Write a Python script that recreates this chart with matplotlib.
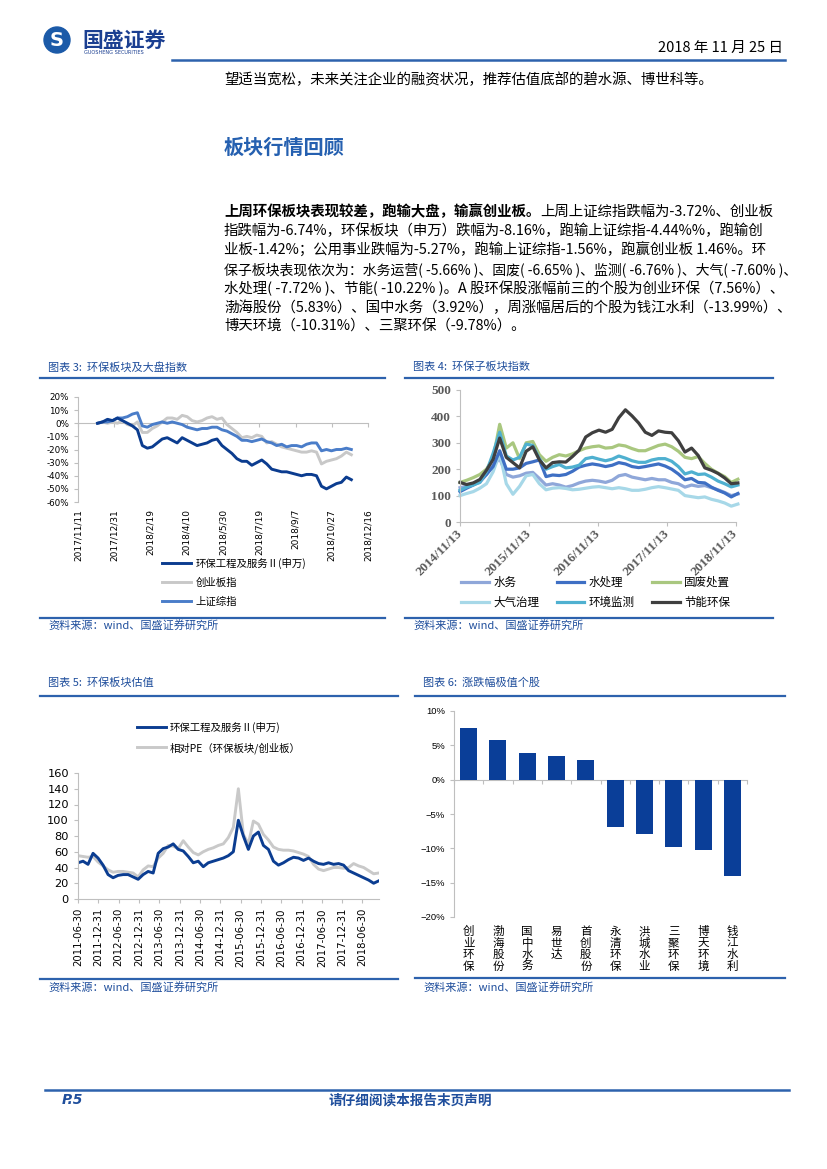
import numpy as np
import pandas as pd
import matplotlib
matplotlib.use('Agg')
import matplotlib.pyplot as plt
from matplotlib.patches import Circle
import matplotlib.dates as mdates

plt.rcParams['font.family'] = ['Noto Sans CJK SC', 'DejaVu Sans']

W, H = 827, 1169

# ---------------- data ----------------
# 图表3 环保板块及大盘指数 (%)
c3_start, c3_end = '2017-12-08', '2018-11-23'
c3_ticks = ['2017/11/11', '2017/12/31', '2018/2/19', '2018/4/10', '2018/5/30',
            '2018/7/19', '2018/9/7', '2018/10/27', '2018/12/16']
c3_env = [0, 1, 3, 2, 4, 2, 0, -2, -5, -17, -19, -18, -15, -12, -11, -13, -15, -11, -13, -15,
          -17, -16, -15, -13, -12, -17, -20, -23, -27, -29, -29, -32, -30, -28, -31, -35, -36, -37, -37, -38,
          -39, -40, -39, -39, -40, -48, -50, -48, -46, -45, -41, -43]
c3_cyb = [0, 1, 0, 1, 0, 2, -1, -2, 1, -7, -7, -4, -2, 1, 4, 4, 3, 6, 5, 2,
          1, 2, 4, 5, 3, 4, -1, -4, -7, -11, -10, -11, -9, -10, -15, -14, -16, -18, -19, -20,
          -21, -22, -22, -21, -22, -31, -29, -28, -27, -25, -22, -24]
c3_sh = [0, 1, 1, 2, 4, 4, 5, 7, 8, -2, -3, -1, 0, 1, 0, 1, 0, -1, -3, -4,
         -5, -4, -4, -3, -3, -5, -6, -8, -10, -13, -13, -14, -13, -12, -14, -15, -17, -16, -18, -17,
         -17, -18, -16, -15, -15, -21, -20, -21, -20, -20, -19, -20]

# 图表4 环保子板块指数
c4_start, c4_end = '2014-11-13', '2018-11-23'
c4_ticks = ['2014/11/13', '2015/11/13', '2016/11/13', '2017/11/13', '2018/11/13']
c4_sw = [130, 135, 142, 150, 180, 215, 240, 180, 170, 175, 185, 188, 165, 140, 145, 140, 132, 138, 148, 155,
         158, 155, 150, 158, 175, 180, 170, 165, 160, 165, 160, 160, 150, 145, 132, 140, 135, 138, 130, 122,
         112, 100, 106]
c4_scl = [115, 128, 140, 155, 180, 210, 270, 200, 200, 205, 222, 228, 235, 172, 178, 176, 180, 192, 208, 215,
          220, 216, 210, 215, 225, 220, 210, 206, 210, 215, 220, 212, 200, 182, 160, 165, 150, 148, 132, 120,
          110, 95, 108]
c4_gf = [150, 158, 168, 180, 200, 240, 370, 280, 300, 240, 300, 305, 255, 230, 245, 255, 250, 258, 270, 280,
         285, 288, 280, 282, 292, 288, 278, 270, 270, 280, 290, 295, 285, 268, 245, 240, 248, 222, 200, 185,
         172, 150, 162]
c4_dq = [100, 108, 115, 128, 145, 190, 260, 145, 105, 135, 175, 180, 145, 122, 128, 130, 127, 122, 124, 128,
         132, 134, 130, 126, 130, 126, 120, 120, 124, 130, 134, 130, 125, 120, 100, 96, 92, 95, 86, 80,
         72, 60, 68]
c4_jc = [120, 132, 140, 150, 190, 260, 340, 250, 235, 245, 295, 290, 240, 200, 210, 218, 205, 208, 215, 240,
         245, 238, 232, 238, 250, 242, 232, 226, 226, 235, 240, 240, 230, 210, 182, 190, 180, 182, 170, 155,
         145, 133, 140]
c4_jn = [150, 142, 148, 161, 196, 237, 318, 245, 225, 205, 268, 285, 235, 205, 225, 228, 227, 248, 272, 322,
         338, 348, 340, 351, 395, 425, 402, 375, 340, 328, 345, 340, 338, 308, 265, 280, 252, 205, 196, 184,
         167, 145, 148]

# 图表5 环保板块估值
c5_start, c5_end = '2011-06-30', '2018-11-23'
c5_ticks = ['2011-06-30', '2011-12-31', '2012-06-30', '2012-12-31', '2013-06-30', '2013-12-31',
            '2014-06-30', '2014-12-31', '2015-06-30', '2015-12-31', '2016-06-30', '2016-12-31',
            '2017-06-30', '2017-12-31', '2018-06-30']
c5_env = [46, 48, 44, 58, 52, 43, 31, 27, 30, 31, 31, 28, 25, 31, 35, 33, 58, 64, 66, 70,
          63, 61, 54, 46, 48, 41, 46, 48, 50, 52, 55, 60, 100, 80, 63, 80, 85, 68, 63, 48,
          43, 46, 50, 53, 52, 49, 52, 48, 45, 44, 46, 44, 45, 43, 36, 33, 30, 27, 24, 20, 23]
c5_pe = [55, 54, 53, 54, 47, 42, 37, 34, 35, 35, 34, 33, 28, 37, 42, 41, 52, 58, 68, 67,
         64, 74, 66, 59, 56, 60, 63, 65, 68, 70, 78, 91, 140, 82, 70, 99, 95, 82, 75, 66,
         63, 62, 62, 61, 59, 57, 54, 44, 38, 36, 38, 40, 40, 39, 40, 45, 42, 40, 36, 32, 33]

# 图表6 涨跌幅极值个股 (%)
c6_names = ['创业环保', '渤海股份', '国中水务', '易世达', '首创股份',
            '永清环保', '洪城水业', '三聚环保', '博天环境', '钱江水利']
c6_vals = [7.56, 5.83, 3.92, 3.43, 2.84, -6.86, -7.89, -9.78, -10.31, -13.99]

# ---------------- page ----------------
BLUE = '#1f4e9c'
LINE = '#2d62ad'
GRAY = '#bfbfbf'


def rect(l, t, r, b):
    return [l / W, 1 - b / H, (r - l) / W, (b - t) / H]


fig = plt.figure(figsize=(W / 100, H / 100), dpi=100)
bg = fig.add_axes([0, 0, 1, 1])
bg.set_xlim(0, W)
bg.set_ylim(H, 0)
bg.axis('off')

# header
bg.add_patch(Circle((57, 40), 13, color='#1b5aa8'))
bg.text(57, 41, 'S', color='white', fontsize=14, weight='bold', ha='center', va='center',
        family='DejaVu Sans')
bg.text(82, 40, '国盛证券', fontsize=15, weight='bold', color='#1b3f91', va='center')
bg.text(84, 52.5, 'GUOSHENG SECURITIES', fontsize=3.6, color='#1b3f91', va='center',
        family='DejaVu Sans')
bg.text(783, 48, '2018 年 11 月 25 日', fontsize=10.5, ha='right', va='center')
bg.plot([172, 785], [60, 60], color=LINE, lw=1.8)

FS = 10.4
bg.text(224, 80, '望适当宽松，未来关注企业的融资状况，推荐估值底部的碧水源、博世科等。',
        fontsize=FS, va='center')
bg.text(224, 147, '板块行情回顾', fontsize=14.5, weight='bold', color='#2560b0', va='center')

t_bold = bg.text(224, 212, '上周环保板块表现较差，跑输大盘，输赢创业板。', fontsize=FS,
                 weight='bold', va='center')
bg.annotate('上周上证综指跌幅为-3.72%、创业板', xy=(1, 0.5), xycoords=t_bold,
            fontsize=FS, va='center', ha='left')
para = ['指跌幅为-6.74%，环保板块（申万）跌幅为-8.16%，跑输上证综指-4.44%%，跑输创',
        '业板-1.42%；公用事业跌幅为-5.27%，跑输上证综指-1.56%，跑赢创业板 1.46%。环',
        '保子板块表现依次为：水务运营( -5.66% )、固废( -6.65% )、监测( -6.76% )、大气( -7.60% )、',
        '水处理( -7.72% )、节能( -10.22% )。A 股环保股涨幅前三的个股为创业环保（7.56%）、',
        '渤海股份（5.83%）、国中水务（3.92%），周涨幅居后的个股为钱江水利（-13.99%）、',
        '博天环境（-10.31%）、三聚环保（-9.78%）。']
para_fs = [FS, FS, 10.0, FS, FS, FS]
for i, line in enumerate(para):
    bg.text(224, 231 + i * 19.2, line, fontsize=para_fs[i], va='center')


def panel(x0, x1, tx, yt, yl, ysl, ys, title):
    bg.text(tx, yt, title, fontsize=8, color=BLUE, style='italic', va='center')
    bg.plot([x0, x1], [yl, yl], color=LINE, lw=1.6)
    bg.plot([x0, x1], [ysl, ysl], color=LINE, lw=1.6)
    bg.text(tx, ys, '资料来源：wind、国盛证券研究所', fontsize=8, color=BLUE, style='italic',
            va='center')


panel(40, 385, 48, 367, 378, 618, 625, '图表 3:  环保板块及大盘指数')
panel(405, 773, 413, 367, 378, 618, 625, '图表 4:  环保子板块指数')
panel(40, 398, 48, 683, 696, 979, 987, '图表 5:  环保板块估值')
panel(415, 785, 423, 683, 696, 978, 987, '图表 6:  涨跌幅极值个股')

# footer
bg.plot([45, 789], [1090, 1090], color=LINE, lw=1.8)
bg.text(62, 1100, 'P.5', fontsize=10, weight='bold', style='italic', color=BLUE, va='center',
        family='DejaVu Sans')
bg.text(410, 1100, '请仔细阅读本报告末页声明', fontsize=9.8, weight='bold', color=BLUE,
        ha='center', va='center')

# ---------------- 图表3 ----------------
ax3 = fig.add_axes(rect(78, 397, 368, 502))
ax3.patch.set_alpha(0)
d3 = pd.date_range(c3_start, c3_end, periods=len(c3_env))
h_cyb, = ax3.plot(d3, c3_cyb, color='#c8c8c8', lw=2.1, label='创业板指')
h_sh, = ax3.plot(d3, c3_sh, color='#4a7dc9', lw=2.1, label='上证综指')
h_env, = ax3.plot(d3, c3_env, color='#0b3c8f', lw=2.1, label='环保工程及服务Ⅱ(申万)')
t3 = pd.to_datetime(c3_ticks, format='%Y/%m/%d')
ax3.set_xlim(t3[0], t3[-1])
ax3.set_ylim(-60, 20)
yt3 = list(range(-60, 21, 10))
ax3.set_yticks(yt3, [f'{v}%' for v in yt3])
ax3.set_xticks(t3, c3_ticks, rotation=90)
ax3.tick_params(axis='x', length=0, pad=5, labelsize=6.5, labelfontfamily='DejaVu Sans')
ax3.tick_params(axis='y', length=3, color=GRAY, labelsize=6.3, labelfontfamily='DejaVu Sans')
for s in ['top', 'right', 'bottom']:
    ax3.spines[s].set_visible(False)
ax3.spines['left'].set_color(GRAY)
sec3 = ax3.secondary_xaxis(0.75)
sec3.set_alignment('bottom')
sec3.set_xticks(mdates.date2num(t3))
sec3.tick_params(labelbottom=False, labeltop=False, length=3, color=GRAY)
for s in sec3.spines.values():
    s.set_color(GRAY)
ax3.legend(handles=[h_env, h_cyb, h_sh], loc='upper left',
           bbox_to_anchor=(162 / W, 1 - 558 / H), bbox_transform=fig.transFigure,
           frameon=False, fontsize=7.5, handlelength=2.8, handletextpad=0.4,
           labelspacing=0.85, borderpad=0, borderaxespad=0)

# ---------------- 图表4 ----------------
ax4 = fig.add_axes(rect(460, 390, 736, 522))
ax4.patch.set_alpha(0)
d4 = pd.date_range(c4_start, c4_end, periods=len(c4_jn))
series4 = [(c4_gf, '#a9c77f', '固废处置'), (c4_sw, '#8fa7d9', '水务'),
           (c4_dq, '#a7d8e8', '大气治理'), (c4_scl, '#3e6fc4', '水处理'),
           (c4_jc, '#4fb0d0', '环境监测'), (c4_jn, '#3f3f3f', '节能环保')]
hd4 = {}
for vals, col, lab in series4:
    hd4[lab], = ax4.plot(d4, vals, color=col, lw=2.3, label=lab, clip_on=False)
t4 = pd.to_datetime(c4_ticks, format='%Y/%m/%d')
ax4.set_xlim(t4[0], t4[-1])
ax4.set_ylim(0, 500)
ax4.set_yticks(range(0, 501, 100))
ax4.set_xticks(t4, c4_ticks, rotation=45, ha='right', va='center', rotation_mode='anchor')
ax4.tick_params(axis='both', length=3, color=GRAY, labelsize=9.5, labelcolor='#595959',
                labelfontfamily='Liberation Serif')
ax4.tick_params(axis='x', pad=4)
for lbl in ax4.get_xticklabels() + ax4.get_yticklabels():
    lbl.set_fontweight('bold')
for s in ['top', 'right']:
    ax4.spines[s].set_visible(False)
ax4.spines['left'].set_color(GRAY)
ax4.spines['bottom'].set_color(GRAY)
order4 = ['水务', '大气治理', '水处理', '环境监测', '固废处置', '节能环保']
ax4.legend(handles=[hd4[k] for k in order4], ncol=3, loc='upper left',
           bbox_to_anchor=(461 / W, 1 - 576 / H), bbox_transform=fig.transFigure,
           frameon=False, fontsize=8.3, handlelength=2.4, handletextpad=0.4,
           labelspacing=0.6, columnspacing=1.5, borderpad=0, borderaxespad=0)

# ---------------- 图表5 ----------------
ax5 = fig.add_axes(rect(78, 773, 379, 899))
ax5.patch.set_alpha(0)
d5 = pd.date_range(c5_start, c5_end, periods=len(c5_env))
h_pe, = ax5.plot(d5, c5_pe, color='#c9c9c9', lw=2.1, label='相对PE（环保板块/创业板）')
h_e5, = ax5.plot(d5, c5_env, color='#0b3d91', lw=2.1, label='环保工程及服务Ⅱ(申万)')
t5 = pd.to_datetime(c5_ticks)
ax5.set_xlim(t5[0], pd.Timestamp('2018-11-26'))
ax5.set_ylim(0, 160)
ax5.set_yticks(range(0, 161, 20))
ax5.set_xticks(t5, c5_ticks, rotation=90)
ax5.tick_params(axis='x', length=3, color=GRAY, labelsize=7.3, labelfontfamily='DejaVu Sans')
ax5.tick_params(axis='y', length=3, color=GRAY, labelsize=8.2, labelfontfamily='DejaVu Sans')
for s in ['top', 'right']:
    ax5.spines[s].set_visible(False)
ax5.spines['left'].set_color(GRAY)
ax5.spines['bottom'].set_color(GRAY)
ax5.legend(handles=[h_e5, h_pe], loc='upper left',
           bbox_to_anchor=(137 / W, 1 - 722 / H), bbox_transform=fig.transFigure,
           frameon=False, fontsize=7.5, handlelength=2.8, handletextpad=0.3,
           labelspacing=0.85, borderpad=0, borderaxespad=0)

# ---------------- 图表6 ----------------
ax6 = fig.add_axes(rect(454, 711, 747, 917))
ax6.patch.set_alpha(0)
x6 = np.arange(len(c6_vals))
ax6.bar(x6, c6_vals, width=0.58, color='#0a3e98')
ax6.set_xlim(-0.5, len(c6_vals) - 0.5)
ax6.set_ylim(-20, 10)
yt6 = list(range(-20, 11, 5))
ax6.set_yticks(yt6, [f'{v}%'.replace('-', '\u2212') for v in yt6])
ax6.set_xticks(x6, ['\n'.join(n) for n in c6_names])
ax6.tick_params(axis='x', length=0, pad=6, labelsize=8.3)
ax6.tick_params(axis='y', length=3, color=GRAY, labelsize=6.8,
                labelfontfamily='Liberation Sans')
for lbl in ax6.get_xticklabels():
    lbl.set_linespacing(0.85)
for s in ['top', 'right', 'bottom']:
    ax6.spines[s].set_visible(False)
ax6.spines['left'].set_color(GRAY)
sec6 = ax6.secondary_xaxis(2 / 3)
sec6.set_alignment('bottom')
sec6.set_xticks(np.arange(len(c6_vals) + 1) - 0.5)
sec6.tick_params(labelbottom=False, labeltop=False, length=3, color=GRAY)
for s in sec6.spines.values():
    s.set_color(GRAY)

fig.savefig('out.png', dpi=100)
